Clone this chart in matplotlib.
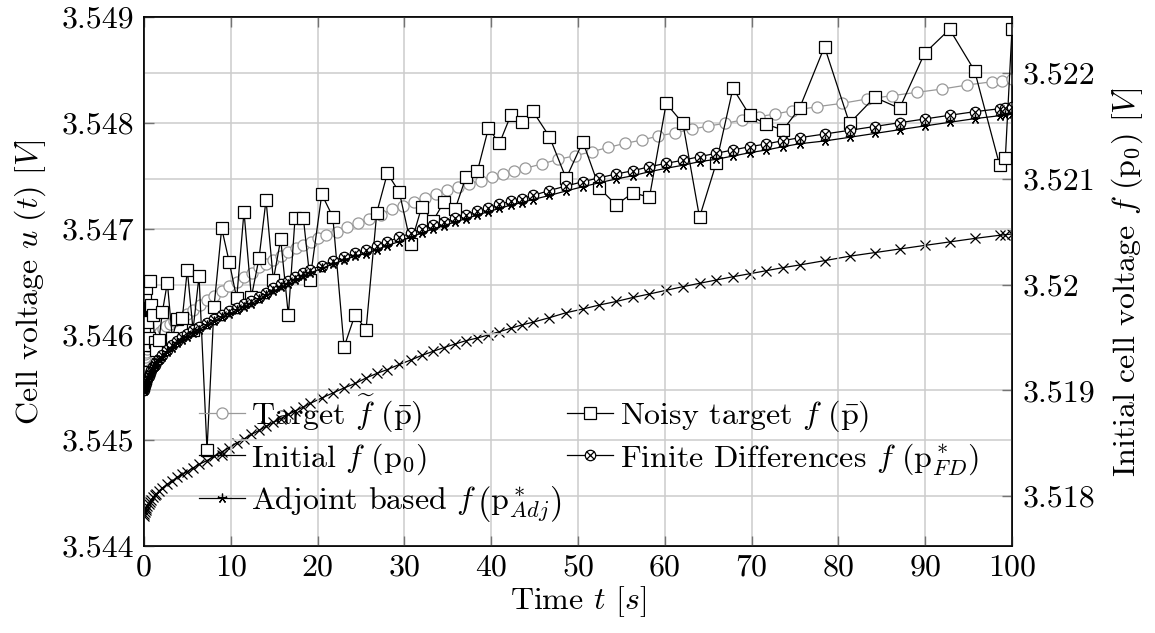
import matplotlib.pyplot as plt
from matplotlib.legend_handler import HandlerTuple
from matplotlib.ticker import FuncFormatter

plt.rcParams.update({
    "font.family": "serif",
    "font.serif": ["cmr10"],
    "mathtext.fontset": "cm",
    "axes.formatter.use_mathtext": True,
    "axes.unicode_minus": False,
    "font.size": 23,
})

# simulation time grid (shared by noisy target, fits and initial guess)
t_sim = [0.00, 0.05, 0.10, 0.18, 0.28, 0.39, 0.52, 0.66, 0.84, 1.04,
         1.23, 1.42, 1.73, 2.11, 2.69, 3.26, 3.84, 4.41, 4.99, 5.65,
         6.34, 7.26, 8.07, 8.95, 9.83, 10.68, 11.52, 12.37, 13.25, 14.06,
         14.90, 15.75, 16.63, 17.40, 18.36, 19.13, 20.48, 21.75, 23.05, 24.32,
         25.58, 26.82, 28.04, 29.42, 30.74, 32.00, 33.27, 34.57, 35.84, 37.11,
         38.41, 39.68, 40.95, 42.26, 43.53, 44.80, 46.71, 48.63, 50.56, 52.47,
         54.40, 56.32, 58.23, 60.16, 62.08, 64.00, 65.92, 67.85, 69.76, 71.68,
         73.61, 75.52, 78.40, 81.28, 84.17, 87.05, 89.93, 92.81, 95.69, 98.57,
         99.23, 100.0]

noisy_target = [3.545647, 3.546013, 3.546363, 3.545900, 3.546436, 3.546117, 3.545966, 3.546505, 3.546278, 3.546183,
                3.545928, 3.545852, 3.545947, 3.546209, 3.546489, 3.545969, 3.546143, 3.546152, 3.546609, 3.546042,
                3.546552, 3.544907, 3.546262, 3.547003, 3.546681, 3.546341, 3.547160, 3.546353, 3.546719, 3.547270,
                3.546514, 3.546899, 3.546183, 3.547097, 3.547100, 3.546514, 3.547324, 3.547112, 3.545881, 3.546188,
                3.546042, 3.547152, 3.547523, 3.547343, 3.546853, 3.547207, 3.547069, 3.547254, 3.547183, 3.547491,
                3.547542, 3.547948, 3.547806, 3.548072, 3.548010, 3.548109, 3.547869, 3.547475, 3.547821, 3.547382,
                3.547223, 3.547339, 3.547296, 3.548184, 3.547995, 3.547107, 3.547617, 3.548326, 3.548074, 3.547986,
                3.547932, 3.548137, 3.548719, 3.547995, 3.548241, 3.548137, 3.548657, 3.548884, 3.548492, 3.547601,
                3.547664, 3.548887]

fd_fit = [3.545474, 3.545493, 3.545512, 3.545536, 3.545559, 3.545583, 3.545607, 3.545635, 3.545663, 3.545692,
          3.545715, 3.545739, 3.545772, 3.545810, 3.545857, 3.545900, 3.545938, 3.545971, 3.546004, 3.546037,
          3.546070, 3.546112, 3.546150, 3.546188, 3.546221, 3.546254, 3.546287, 3.546320, 3.546358, 3.546396,
          3.546434, 3.546472, 3.546509, 3.546542, 3.546580, 3.546609, 3.546651, 3.546694, 3.546732, 3.546769,
          3.546802, 3.546840, 3.546878, 3.546916, 3.546958, 3.546996, 3.547034, 3.547067, 3.547100, 3.547133,
          3.547166, 3.547199, 3.547228, 3.547261, 3.547284, 3.547313, 3.547360, 3.547403, 3.547443, 3.547481,
          3.547516, 3.547547, 3.547585, 3.547617, 3.547646, 3.547680, 3.547712, 3.547743, 3.547774, 3.547800,
          3.547831, 3.547859, 3.547894, 3.547929, 3.547965, 3.548001, 3.548036, 3.548071, 3.548105, 3.548133,
          3.548138, 3.548147]

adjoint_fit = [3.545465, 3.545484, 3.545503, 3.545522, 3.545545, 3.545569, 3.545593, 3.545621, 3.545649, 3.545678,
               3.545701, 3.545725, 3.545758, 3.545786, 3.545833, 3.545876, 3.545914, 3.545947, 3.545980, 3.546013,
               3.546046, 3.546088, 3.546126, 3.546164, 3.546197, 3.546226, 3.546259, 3.546292, 3.546330, 3.546368,
               3.546406, 3.546444, 3.546481, 3.546514, 3.546552, 3.546581, 3.546623, 3.546666, 3.546704, 3.546741,
               3.546764, 3.546802, 3.546840, 3.546878, 3.546920, 3.546958, 3.546996, 3.547029, 3.547062, 3.547095,
               3.547128, 3.547161, 3.547190, 3.547223, 3.547246, 3.547275, 3.547313, 3.547356, 3.547396, 3.547434,
               3.547469, 3.547500, 3.547538, 3.547570, 3.547599, 3.547633, 3.547655, 3.547686, 3.547717, 3.547743,
               3.547774, 3.547802, 3.547828, 3.547863, 3.547899, 3.547935, 3.547970, 3.548005, 3.548039, 3.548067,
               3.548072, 3.548081]

# initial guess, read against the right axis
initial_guess = [3.517813, 3.517832, 3.517851, 3.517869, 3.517888, 3.517907, 3.517926, 3.517945, 3.517964, 3.517988,
                 3.518007, 3.518021, 3.518049, 3.518077, 3.518111, 3.518144, 3.518177, 3.518205, 3.518233, 3.518267,
                 3.518300, 3.518337, 3.518375, 3.518418, 3.518460, 3.518503, 3.518541, 3.518583, 3.518621, 3.518659,
                 3.518697, 3.518734, 3.518772, 3.518805, 3.518843, 3.518876, 3.518928, 3.518975, 3.519023, 3.519065,
                 3.519117, 3.519160, 3.519197, 3.519245, 3.519287, 3.519330, 3.519368, 3.519405, 3.519438, 3.519470,
                 3.519495, 3.519524, 3.519555, 3.519587, 3.519618, 3.519644, 3.519687, 3.519734, 3.519769, 3.519807,
                 3.519840, 3.519878, 3.519911, 3.519946, 3.519980, 3.520012, 3.520043, 3.520074, 3.520102, 3.520131,
                 3.520160, 3.520185, 3.520226, 3.520268, 3.520302, 3.520336, 3.520370, 3.520403, 3.520436, 3.520466,
                 3.520472, 3.520478]

t_target = [0.00, 0.06, 0.14, 0.23, 0.35, 0.48, 0.65, 0.83, 1.04, 1.29,
            1.57, 1.88, 2.22, 2.59, 3.00, 3.40, 4.07, 4.92, 5.68, 6.45,
            7.23, 8.07, 8.95, 9.83, 10.68, 11.52, 12.41, 13.25, 14.06, 14.90,
            15.75, 16.63, 17.52, 18.36, 19.21, 20.09, 20.98, 22.21, 23.43, 24.70,
            25.97, 27.28, 28.55, 29.81, 31.12, 32.38, 33.65, 34.95, 36.22, 37.49,
            38.80, 40.07, 41.33, 42.64, 43.91, 45.83, 47.75, 49.67, 51.60, 53.51,
            55.43, 57.36, 59.27, 61.20, 63.12, 65.03, 66.96, 68.88, 70.80, 72.72,
            74.65, 77.53, 80.41, 83.29, 86.17, 89.05, 91.93, 94.81, 97.70, 98.85,
            100.0]

target = [3.545758, 3.545786, 3.545815, 3.545838, 3.545862, 3.545886, 3.545909, 3.545933, 3.545956, 3.545980,
          3.546004, 3.546027, 3.546051, 3.546075, 3.546098, 3.546122, 3.546152, 3.546193, 3.546231, 3.546278,
          3.546325, 3.546363, 3.546410, 3.546453, 3.546495, 3.546543, 3.546580, 3.546634, 3.546665, 3.546703,
          3.546741, 3.546779, 3.546814, 3.546845, 3.546876, 3.546908, 3.546940, 3.546971, 3.547012, 3.547050,
          3.547091, 3.547133, 3.547182, 3.547216, 3.547254, 3.547292, 3.547327, 3.547365, 3.547390, 3.547422,
          3.547453, 3.547485, 3.547513, 3.547547, 3.547570, 3.547611, 3.547655, 3.547689, 3.547727, 3.547768,
          3.547806, 3.547837, 3.547875, 3.547906, 3.547939, 3.547970, 3.547995, 3.548026, 3.548058, 3.548083,
          3.548114, 3.548152, 3.548184, 3.548225, 3.548256, 3.548288, 3.548319, 3.548357, 3.548388, 3.548398,
          3.548411]

left_ticks = [3.544, 3.545, 3.546, 3.547, 3.548, 3.549]
right_ticks = [3.518, 3.519, 3.520, 3.521, 3.522]
x_ticks = list(range(0, 101, 10))

fig = plt.figure(figsize=(11.55, 6.33), dpi=100)
ax = fig.add_axes([144 / 1155, 87 / 633, 868 / 1155, 529 / 633])
ax2 = ax.twinx()
# put the right axis (initial guess) underneath the main curves
ax.set_zorder(ax2.get_zorder() + 1)
ax.patch.set_visible(False)

lw = 0.9
h_target, = ax.plot(t_target, target, "-o", color="0.6", mfc="white", mec="0.6",
                    ms=8, lw=lw, mew=0.9)
h_noisy, = ax.plot(t_sim, noisy_target, "-s", color="black", mfc="white",
                   ms=8.5, lw=lw, mew=0.9)
h_fd, = ax.plot(t_sim, fd_fit, "-o", color="black", mfc="white", ms=7.5, lw=lw, mew=0.9)
h_fdx, = ax.plot(t_sim, fd_fit, "x", color="black", ms=5.3, mew=0.9)
h_adj, = ax.plot(t_sim, adjoint_fit, "-", marker=(5, 2, 0), color="black",
                 ms=7, lw=lw, mew=0.9)
h_init, = ax2.plot(t_sim, initial_guess, "-x", color="black", ms=6.5, lw=lw, mew=0.9)

ax.set_xlim(0, 100)
ax.set_ylim(3.544, 3.549)
ax2.set_ylim(3.544 - 0.026471, 3.549 - 0.026471)
ax.set_xticks(x_ticks)
ax.set_yticks(left_ticks)
ax2.set_yticks(right_ticks)
fmt = FuncFormatter(lambda v, p: f"{v:.4g}")
ax.xaxis.set_major_formatter(FuncFormatter(lambda v, p: f"{v:g}"))
ax.yaxis.set_major_formatter(fmt)
ax2.yaxis.set_major_formatter(fmt)

ax.tick_params(direction="in", length=7, width=1, color="0.45", pad=7, top=True, right=False)
ax2.tick_params(direction="in", length=7, width=1, color="0.45", pad=8)
ax.tick_params(axis="x", pad=6)

ax.grid(True, color="0.8", lw=1.1)
ax2.grid(True, axis="y", color="0.8", lw=1.1)
for a in (ax, ax2):
    for s in a.spines.values():
        s.set_linewidth(1.1)

ax.set_xlabel(r"Time $t$ $[s]$", labelpad=2)
ax.set_ylabel(r"Cell voltage $u\ (t)$ $[V]$", labelpad=10)
ax2.set_ylabel(r"Initial cell voltage $f\ (\mathrm{p}_0)$ $[V]$", labelpad=10)

handles = [h_target, h_init, h_adj, h_noisy, (h_fd, h_fdx)]
labels = [r"Target $\widetilde{f}\ (\bar{\mathrm{p}})$",
          r"Initial $f\ (\mathrm{p}_0)$",
          r"Adjoint based $f\,\left(\mathrm{p}^*_{Adj}\right)$",
          r"Noisy target $f\ (\bar{\mathrm{p}})$",
          r"Finite Differences $f\ (\mathrm{p}^*_{FD})$"]
ax.legend(handles, labels, ncol=2, loc="upper left", bbox_to_anchor=(0.063, 0.29),
          frameon=False, handlelength=1.45, handletextpad=0.2, columnspacing=0.15,
          labelspacing=0.22, borderpad=0, borderaxespad=0,
          handler_map={tuple: HandlerTuple(ndivide=1)})

fig.savefig("out.png", dpi=100)
